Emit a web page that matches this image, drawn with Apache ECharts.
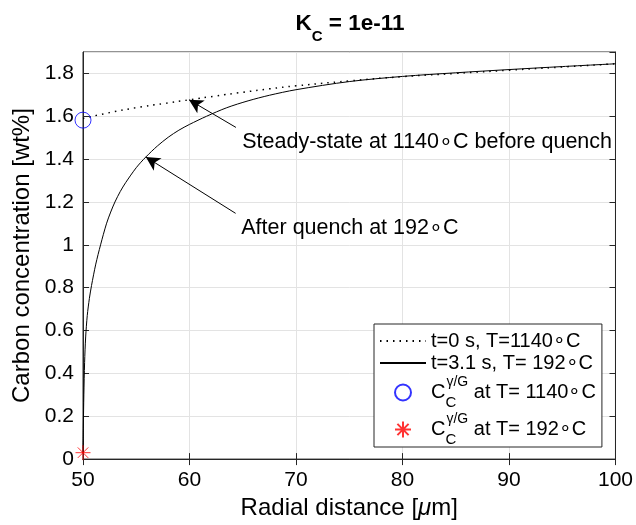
<!DOCTYPE html>
<html>
<head>
<meta charset="utf-8">
<script src="https://cdn.jsdelivr.net/npm/echarts@6/dist/echarts.min.js"></script>
<style>
  html, body { margin: 0; padding: 0; background: #fff; }
  #chart { width: 636px; height: 525px; }
</style>
</head>
<body>
<div id="chart"></div>
<script>
// ---- data ----
const xTicks = [50, 60, 70, 80, 90, 100];
const yTicks = [0, 0.2, 0.4, 0.6, 0.8, 1, 1.2, 1.4, 1.6, 1.8];

// t=0 s profile (dotted)
const steadyX = [50, 52.5, 55, 57.5, 60, 62.5, 65, 67.5, 70, 75, 80, 85, 90, 95, 100];
const steadyY = [1.59, 1.617, 1.64, 1.659, 1.677, 1.695, 1.712, 1.728, 1.742, 1.765, 1.785, 1.80, 1.815, 1.83, 1.845];

// t=3.1 s profile (solid)
const quenchX = [50, 50.03, 50.08, 50.15, 50.25, 50.4, 50.6, 50.8, 51.2, 51.65, 52.2, 52.6, 53, 53.5, 54, 55, 55.9, 57, 58, 59, 60, 61.6, 63.5, 65.5, 67.5, 70, 75, 80, 85, 90, 95, 100];
const quenchY = [0.03, 0.15, 0.3, 0.45, 0.57, 0.67, 0.75, 0.81, 0.91, 1.0, 1.098, 1.153, 1.2, 1.249, 1.29, 1.36, 1.41, 1.462, 1.502, 1.535, 1.562, 1.6, 1.64, 1.672, 1.698, 1.724, 1.762, 1.786, 1.803, 1.818, 1.832, 1.845];

// interface concentrations
const interfaceHot = [50, 1.582];
const interfaceCold = [50, 0.03];

// annotations: text anchor and arrow tail/tip
const annotText = ['Steady-state at 1140\u2218C before quench', 'After quench at 192\u2218C'];
const annotTextAt = [[64.95, 1.48], [64.86, 1.076]];
const annotTail = [[64.36, 1.548], [64.33, 1.147]];
const annotTip = [[59.95, 1.677], [55.9, 1.41]];

const seriesNames = ['steady', 'quench', 'hot', 'cold'];
const legendLabels = {
    steady: '{m|t=0 s, T=1140\u2218C}',
    quench: '{m|t=3.1 s, T= 192\u2218C}',
    hot: '{mm|C}{sub|C}{sup|\u03b3/G}{mm| at T= 1140\u2218C}',
    cold: '{mm|C}{sub|C}{sup|\u03b3/G}{mm| at T= 192\u2218C}'
};

const FONT = '"Liberation Sans", Arial, Helvetica, sans-serif';
const AXIS_COLOR = '#262626';
const GRID_COLOR = '#e3e3e3';

const zip = (xs, ys) => xs.map((x, i) => [x, ys[i]]);

const chart = echarts.init(document.getElementById('chart'), null, { renderer: 'canvas' });

const xBase = {
    type: 'value', min: 50, max: 100, interval: 10,
    axisLine: { lineStyle: { color: AXIS_COLOR } },
    axisTick: { inside: true, length: 6, lineStyle: { color: AXIS_COLOR } }
};
const yBase = {
    type: 'value', min: 0, max: 1.9, interval: 0.2,
    axisLine: { lineStyle: { color: AXIS_COLOR } },
    axisTick: { inside: true, length: 6, lineStyle: { color: AXIS_COLOR } }
};

const option = {
    animation: false,
    backgroundColor: '#fff',
    textStyle: { fontFamily: FONT },
    title: {
        text: '{b|K}{s|C}{b| = 1e-11}',
        left: 350, top: 4, padding: 0, textAlign: 'center',
        textStyle: {
            rich: {
                b: { fontFamily: FONT, fontSize: 22.5, fontWeight: 'bold', color: '#000', lineHeight: 40, verticalAlign: 'middle' },
                s: { fontFamily: FONT, fontSize: 15, fontWeight: 'bold', color: '#000', lineHeight: 18, verticalAlign: 'bottom' }
            }
        }
    },
    grid: {
        left: 83, right: 19, top: 52, bottom: 64,
        show: true, borderColor: AXIS_COLOR, borderWidth: 1
    },
    legend: {
        orient: 'vertical', left: 374, top: 324,
        backgroundColor: '#fff', borderColor: AXIS_COLOR, borderWidth: 1, borderRadius: 0,
        padding: [7, 6, 0, 5], itemGap: 2, itemWidth: 46, itemHeight: 16,
        data: [
            { name: 'steady', itemStyle: { opacity: 0 } },
            { name: 'quench', itemStyle: { opacity: 0 } },
            { name: 'hot' },
            { name: 'cold' }
        ],
        formatter: name => legendLabels[name],
        textStyle: {
            fontFamily: FONT, fontSize: 20, color: '#000',
            rich: {
                m: { fontFamily: FONT, fontSize: 20, color: '#000', lineHeight: 27, verticalAlign: 'middle' },
                mm: { fontFamily: FONT, fontSize: 20, color: '#000', lineHeight: 35, verticalAlign: 'middle' },
                sub: { fontFamily: FONT, fontSize: 15, color: '#000', lineHeight: 12, width: 1, verticalAlign: 'bottom' },
                sup: { fontFamily: FONT, fontSize: 14, color: '#000', lineHeight: 26, verticalAlign: 'top' }
            }
        }
    },
    xAxis: [
        Object.assign({}, xBase, {
            position: 'bottom',
            name: '{n|Radial distance [}{i|\u03bc}{n|m]}',
            nameLocation: 'middle', nameGap: 33,
            nameTextStyle: {
                rich: {
                    n: { fontFamily: FONT, fontSize: 24, color: '#000' },
                    i: { fontFamily: FONT, fontSize: 24, color: '#000', fontStyle: 'italic' }
                }
            },
            axisLabel: { color: '#000', fontSize: 21, fontFamily: FONT, margin: 11 },
            splitLine: { show: true, lineStyle: { color: GRID_COLOR } }
        }),
        Object.assign({}, xBase, {
            position: 'top',
            axisLabel: { show: false },
            splitLine: { show: false }
        })
    ],
    yAxis: [
        Object.assign({}, yBase, {
            position: 'left',
            name: 'Carbon concentration [wt%]',
            nameLocation: 'middle', nameGap: 43,
            nameTextStyle: { fontFamily: FONT, fontSize: 24, color: '#000' },
            axisLabel: { color: '#000', fontSize: 21, fontFamily: FONT, margin: 9, showMaxLabel: false },
            splitLine: { show: true, lineStyle: { color: GRID_COLOR } }
        }),
        Object.assign({}, yBase, {
            position: 'right',
            axisLabel: { show: false },
            splitLine: { show: false }
        })
    ],
    series: [
        {
            name: 'steady', type: 'line', data: zip(steadyX, steadyY),
            symbol: 'none', smooth: true, z: 3,
            lineStyle: { color: '#000', width: 1.5, type: [1.5, 5] },
            itemStyle: { color: '#000' }
        },
        {
            name: 'quench', type: 'line', data: zip(quenchX, quenchY),
            symbol: 'none', smooth: 0.3, z: 3,
            lineStyle: { color: '#000', width: 1 },
            itemStyle: { color: '#000' }
        },
        {
            name: 'hot', type: 'scatter', data: [interfaceHot],
            symbol: 'circle', symbolSize: 16, z: 5,
            itemStyle: { color: 'rgba(0,0,0,0)', borderColor: '#0000ff', borderWidth: 1 }
        },
        {
            name: 'cold', type: 'scatter', data: [interfaceCold],
            symbol: 'path://M0,5L10,5M5,0L5,10M1.5,1.5L8.5,8.5M1.5,8.5L8.5,1.5',
            symbolSize: 15, z: 5,
            itemStyle: { color: 'rgba(0,0,0,0)', borderColor: '#ff0000', borderWidth: 1 }
        },
        {
            name: 'annotations', type: 'line', data: [], z: 6,
            markLine: {
                silent: true, animation: false,
                lineStyle: { color: '#000', width: 1, type: 'solid' },
                label: { show: false },
                symbolSize: [11, 14],
                data: annotTail.map((tail, i) => [
                    { coord: tail, symbol: 'none' },
                    { coord: annotTip[i], symbol: 'arrow' }
                ])
            },
            markPoint: {
                silent: true, animation: false,
                symbol: 'circle', symbolSize: 0,
                label: {
                    show: true, position: 'right', distance: 0,
                    color: '#000', fontFamily: FONT, fontSize: 21.5,
                    formatter: p => p.name
                },
                data: annotText.map((t, i) => ({ name: t, coord: annotTextAt[i] }))
            }
        }
    ]
};

chart.setOption(option);
</script>
</body>
</html>
